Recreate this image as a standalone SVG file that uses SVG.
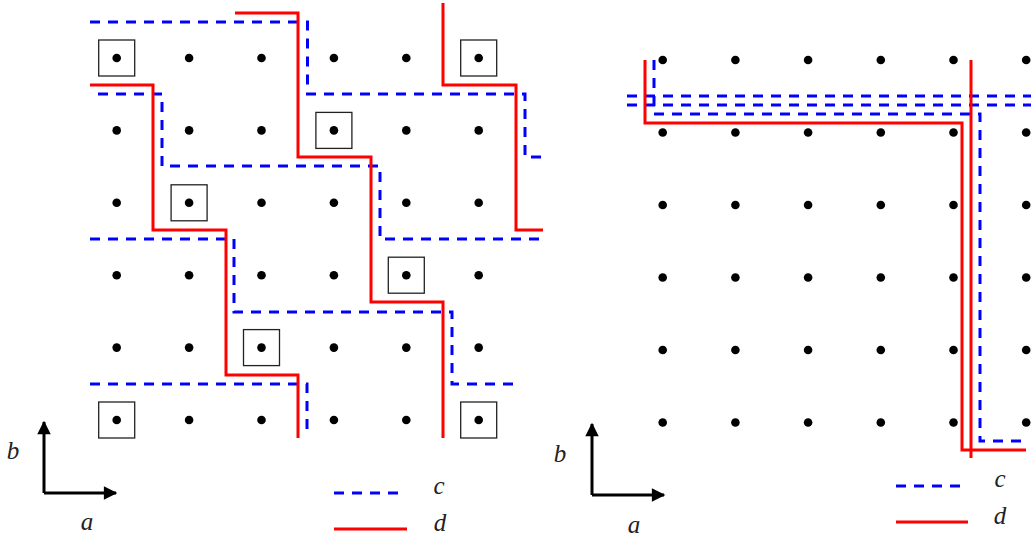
<svg xmlns="http://www.w3.org/2000/svg" width="1031" height="536" viewBox="0 0 1031 536">
<style>
.dot{fill:#000}
.sq{fill:none;stroke:#222;stroke-width:1.3}
.c{fill:none;stroke:#0000ff;stroke-width:3;stroke-dasharray:10 8}
.d{fill:none;stroke:#ff0000;stroke-width:3}
.ax{fill:none;stroke:#000;stroke-width:3}
.lbl{font-family:"Liberation Serif",serif;font-style:italic;font-size:25px;fill:#222}
</style>
<defs>
<marker id="ah" viewBox="0 0 10 10" refX="9" refY="5" markerWidth="5" markerHeight="4.5" orient="auto" markerUnits="strokeWidth">
<path d="M0,0 L10,5 L0,10 z" fill="#000"/>
</marker>
</defs>
<g id="left-lattice">
<g id="left-dots">
<circle class="dot" cx="116.7" cy="58" r="4.3"/><circle class="dot" cx="189.1" cy="58" r="4.3"/><circle class="dot" cx="261.5" cy="58" r="4.3"/><circle class="dot" cx="333.9" cy="58" r="4.3"/><circle class="dot" cx="406.3" cy="58" r="4.3"/><circle class="dot" cx="478.7" cy="58" r="4.3"/>
<circle class="dot" cx="116.7" cy="130.4" r="4.3"/><circle class="dot" cx="189.1" cy="130.4" r="4.3"/><circle class="dot" cx="261.5" cy="130.4" r="4.3"/><circle class="dot" cx="333.9" cy="130.4" r="4.3"/><circle class="dot" cx="406.3" cy="130.4" r="4.3"/><circle class="dot" cx="478.7" cy="130.4" r="4.3"/>
<circle class="dot" cx="116.7" cy="202.8" r="4.3"/><circle class="dot" cx="189.1" cy="202.8" r="4.3"/><circle class="dot" cx="261.5" cy="202.8" r="4.3"/><circle class="dot" cx="333.9" cy="202.8" r="4.3"/><circle class="dot" cx="406.3" cy="202.8" r="4.3"/><circle class="dot" cx="478.7" cy="202.8" r="4.3"/>
<circle class="dot" cx="116.7" cy="275.2" r="4.3"/><circle class="dot" cx="189.1" cy="275.2" r="4.3"/><circle class="dot" cx="261.5" cy="275.2" r="4.3"/><circle class="dot" cx="333.9" cy="275.2" r="4.3"/><circle class="dot" cx="406.3" cy="275.2" r="4.3"/><circle class="dot" cx="478.7" cy="275.2" r="4.3"/>
<circle class="dot" cx="116.7" cy="347.6" r="4.3"/><circle class="dot" cx="189.1" cy="347.6" r="4.3"/><circle class="dot" cx="261.5" cy="347.6" r="4.3"/><circle class="dot" cx="333.9" cy="347.6" r="4.3"/><circle class="dot" cx="406.3" cy="347.6" r="4.3"/><circle class="dot" cx="478.7" cy="347.6" r="4.3"/>
<circle class="dot" cx="116.7" cy="420" r="4.3"/><circle class="dot" cx="189.1" cy="420" r="4.3"/><circle class="dot" cx="261.5" cy="420" r="4.3"/><circle class="dot" cx="333.9" cy="420" r="4.3"/><circle class="dot" cx="406.3" cy="420" r="4.3"/><circle class="dot" cx="478.7" cy="420" r="4.3"/>
</g>
<g id="left-squares">
<rect class="sq" x="98.7" y="40" width="36" height="36"/>
<rect class="sq" x="460.7" y="40" width="36" height="36"/>
<rect class="sq" x="315.9" y="112.4" width="36" height="36"/>
<rect class="sq" x="171.1" y="184.8" width="36" height="36"/>
<rect class="sq" x="388.3" y="257.2" width="36" height="36"/>
<rect class="sq" x="243.5" y="329.6" width="36" height="36"/>
<rect class="sq" x="98.7" y="402" width="36" height="36"/>
<rect class="sq" x="460.7" y="402" width="36" height="36"/>
</g>
</g>
<g id="left-connectors">
<path class="c" d="M90,22 H307.5 V94 H525 V157 H543"/>
<path class="c" d="M98,94 H162 V166 H380 V239 H543"/>
<path class="c" d="M90,239 H234 V312 H452 V384 H516"/>
<path class="c" d="M90,384 H307 V430"/>
<path class="d" d="M235,13 H298 V157 H371 V302 H443 V438"/>
<path class="d" d="M90,85 H153 V230 H226 V375 H298 V438"/>
<path class="d" d="M443,3 V85 H516 V230 H543"/>
</g>
<g id="left-axes">
<path class="ax" d="M44,493 V422" marker-end="url(#ah)"/>
<path class="ax" d="M44,493 H116" marker-end="url(#ah)"/>
<text class="lbl" x="13" y="459" text-anchor="middle">b</text>
<text class="lbl" x="87" y="530" text-anchor="middle">a</text>
</g>
<g id="left-legend">
<line class="c" x1="334" y1="493" x2="400" y2="493"/>
<line class="d" x1="334" y1="529" x2="407" y2="529"/>
<text class="lbl" x="439" y="494" text-anchor="middle">c</text>
<text class="lbl" x="440" y="531" text-anchor="middle">d</text>
</g>
<g id="right-lattice">
<circle class="dot" cx="662.7" cy="60" r="4.3"/><circle class="dot" cx="735.4" cy="60" r="4.3"/><circle class="dot" cx="808.1" cy="60" r="4.3"/><circle class="dot" cx="880.8" cy="60" r="4.3"/><circle class="dot" cx="953.5" cy="60" r="4.3"/><circle class="dot" cx="1026.2" cy="60" r="4.3"/>
<circle class="dot" cx="662.7" cy="132.5" r="4.3"/><circle class="dot" cx="735.4" cy="132.5" r="4.3"/><circle class="dot" cx="808.1" cy="132.5" r="4.3"/><circle class="dot" cx="880.8" cy="132.5" r="4.3"/><circle class="dot" cx="953.5" cy="132.5" r="4.3"/><circle class="dot" cx="1026.2" cy="132.5" r="4.3"/>
<circle class="dot" cx="662.7" cy="205" r="4.3"/><circle class="dot" cx="735.4" cy="205" r="4.3"/><circle class="dot" cx="808.1" cy="205" r="4.3"/><circle class="dot" cx="880.8" cy="205" r="4.3"/><circle class="dot" cx="953.5" cy="205" r="4.3"/><circle class="dot" cx="1026.2" cy="205" r="4.3"/>
<circle class="dot" cx="662.7" cy="277.5" r="4.3"/><circle class="dot" cx="735.4" cy="277.5" r="4.3"/><circle class="dot" cx="808.1" cy="277.5" r="4.3"/><circle class="dot" cx="880.8" cy="277.5" r="4.3"/><circle class="dot" cx="953.5" cy="277.5" r="4.3"/><circle class="dot" cx="1026.2" cy="277.5" r="4.3"/>
<circle class="dot" cx="662.7" cy="350" r="4.3"/><circle class="dot" cx="735.4" cy="350" r="4.3"/><circle class="dot" cx="808.1" cy="350" r="4.3"/><circle class="dot" cx="880.8" cy="350" r="4.3"/><circle class="dot" cx="953.5" cy="350" r="4.3"/><circle class="dot" cx="1026.2" cy="350" r="4.3"/>
<circle class="dot" cx="662.7" cy="422.5" r="4.3"/><circle class="dot" cx="735.4" cy="422.5" r="4.3"/><circle class="dot" cx="808.1" cy="422.5" r="4.3"/><circle class="dot" cx="880.8" cy="422.5" r="4.3"/><circle class="dot" cx="953.5" cy="422.5" r="4.3"/><circle class="dot" cx="1026.2" cy="422.5" r="4.3"/>
</g>
<g id="right-connectors">
<path class="c" d="M627,96 H1031"/>
<path class="c" d="M627,105 H1031"/>
<path class="c" d="M654,60 V114 H980 V441 H1026"/>
<path class="d" d="M645,60 V123 H962 V450 H1026"/>
<path class="d" d="M971,60 V458"/>
</g>
<g id="right-axes">
<path class="ax" d="M592,495 V424" marker-end="url(#ah)"/>
<path class="ax" d="M592,495 H664" marker-end="url(#ah)"/>
<text class="lbl" x="560" y="462" text-anchor="middle">b</text>
<text class="lbl" x="634" y="533" text-anchor="middle">a</text>
</g>
<g id="right-legend">
<line class="c" x1="896" y1="486" x2="960" y2="486"/>
<line class="d" x1="896" y1="522" x2="968" y2="522"/>
<text class="lbl" x="1000" y="487" text-anchor="middle">c</text>
<text class="lbl" x="1000" y="524" text-anchor="middle">d</text>
</g>
</svg>
